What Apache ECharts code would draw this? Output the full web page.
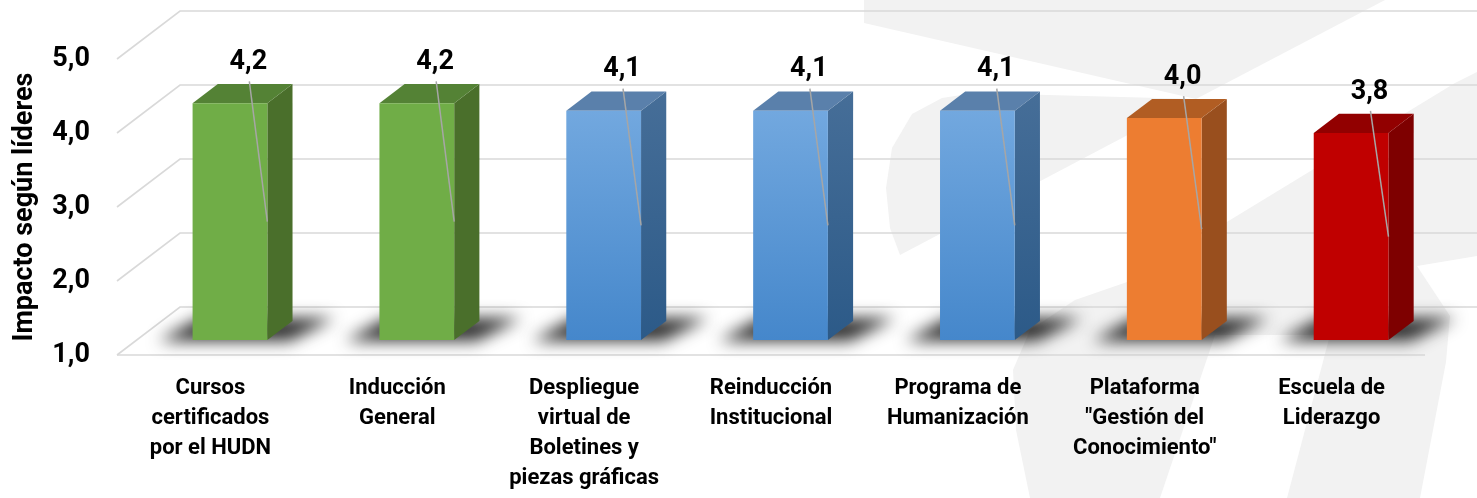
<!DOCTYPE html>
<html>
<head>
<meta charset="utf-8">
<script src="https://cdn.jsdelivr.net/npm/echarts@6/dist/echarts.min.js"></script>
<style>
html,body{margin:0;padding:0;background:#ffffff;}
#chart{width:1477px;height:498px;}
</style>
</head>
<body>
<div id="chart"></div>
<script>
// ---- data ----
const categories = [
  'Cursos\ncertificados\npor el HUDN',
  'Inducción\nGeneral',
  'Despliegue\nvirtual de\nBoletines y\npiezas gráficas',
  'Reinducción\nInstitucional',
  'Programa de\nHumanización',
  'Plataforma\n"Gestión del\nConocimiento"',
  'Escuela de\nLiderazgo'
];
const values = [4.2, 4.2, 4.1, 4.1, 4.1, 4.0, 3.8];
const barGroup = ['green', 'green', 'blue', 'blue', 'blue', 'orange', 'red'];
const yTicks = [1, 2, 3, 4, 5];
const yAxisTitle = 'Impacto según líderes';

// ---- styles ----
const FONT = 'Roboto';
const DEPTH_X = 63, DEPTH_Y = -48;       // floor depth projection
const BAR_FRONT = 0.31, BAR_BACK = 0.71; // bar placement within depth
const BAR_WIDTH_RATIO = 0.40;
const LG = (c0, c1) => new echarts.graphic.LinearGradient(0, 0, 0, 1, [{offset: 0, color: c0}, {offset: 1, color: c1}]);
const palette = {
  green:  {front: '#70AD47', side: '#4A6F2B', top: '#548235'},
  blue:   {front: LG('#72A8DF', '#4587CB'), side: LG('#466E98', '#2C5A88'), top: '#5A80AB'},
  orange: {front: '#ED7D31', side: '#994F1E', top: '#B15D23'},
  red:    {front: '#C00000', side: '#7E0000', top: '#920000'}
};
const fmt = v => v.toFixed(1).replace('.', ',');

function renderGrid(params, api) {
  const cs = params.coordSys;
  const v = api.value(1);
  const p = api.coord([0, v]);
  const y = p[1];
  const x0 = cs.x;
  const children = [{
    type: 'polyline',
    shape: {points: [[x0, y], [x0 + DEPTH_X, y + DEPTH_Y], [x0 + cs.width + DEPTH_X + 20, y + DEPTH_Y]]},
    style: {stroke: '#D9D9D9', lineWidth: 1.6, fill: null}
  }];
  if (v === yTicks[0]) {
    children.push({
      type: 'line',
      shape: {x1: x0, y1: y, x2: x0 + cs.width, y2: y},
      style: {stroke: '#D9D9D9', lineWidth: 1.6}
    });
  }
  return {type: 'group', children};
}

function renderBar(params, api) {
  const i = api.value(0);
  const v = api.value(1);
  const base = api.coord([i, yTicks[0]]);
  const top = api.coord([i, v]);
  const bw = api.size([1, 0])[0] * BAR_WIDTH_RATIO;
  const ox = BAR_FRONT * DEPTH_X, oy = BAR_FRONT * DEPTH_Y;
  const dx = (BAR_BACK - BAR_FRONT) * DEPTH_X, dy = (BAR_BACK - BAR_FRONT) * DEPTH_Y;
  const fl = base[0] - bw / 2 + ox, fr = fl + bw;
  const fy = base[1] + oy, ty = top[1] + oy;
  const pal = palette[barGroup[params.dataIndex]];
  const SH = 3000;
  const shadowPts = [[fl - 34, fy + 1], [fr + 22, fy + 1], [fr + dx + 42, fy + dy - 3], [fl + dx - 18, fy + dy - 3]];
  const labX = fr - 19, labY = ty - 41;
  return {
    type: 'group',
    children: [
      {
        type: 'polygon',
        shape: {points: shadowPts.map(p => [p[0] - SH, p[1]])},
        style: {fill: '#000', shadowBlur: 16, shadowColor: 'rgba(0,0,0,0.82)', shadowOffsetX: SH, shadowOffsetY: 0}
      },
      {
        type: 'polygon',
        shape: {points: [[fr, ty], [fr + dx, ty + dy], [fr + dx, fy + dy], [fr, fy]]},
        style: {fill: pal.side}
      },
      {
        type: 'polygon',
        shape: {points: [[fl, ty], [fr, ty], [fr + dx, ty + dy], [fl + dx, ty + dy]]},
        style: {fill: pal.top}
      },
      {
        type: 'rect',
        shape: {x: fl, y: ty, width: bw, height: fy - ty},
        style: {fill: pal.front}
      },
      {
        type: 'line',
        shape: {x1: labX + 1, y1: labY + 19, x2: fr, y2: (ty + fy) / 2},
        style: {stroke: '#A6A6A6', lineWidth: 1.5}
      },
      {
        type: 'text',
        x: labX, y: labY,
        style: {text: fmt(v), fill: '#000', font: 'bold 27px ' + FONT, align: 'center', verticalAlign: 'middle'}
      }
    ]
  };
}

const chart = echarts.init(document.getElementById('chart'), null, {renderer: 'canvas'});
const W = '#F2F2F2';
chart.setOption({
  animation: false,
  backgroundColor: '#ffffff',
  grid: {left: 117, right: 52, top: 59, bottom: 143},
  graphic: {
    elements: [
      {type: 'polygon', z: 0, silent: true, shape: {points: [[864,0],[1385,0],[1196,99],[864,23]]}, style: {fill: W}},
      {type: 'polygon', z: 0, silent: true, shape: {points: [[974,93],[1196,99],[900,255],[890,228],[886,188],[892,148],[912,114],[942,98]]}, style: {fill: W}},
      {type: 'polygon', z: 0, silent: true, shape: {points: [[1455,83],[1477,72],[1477,498],[1030,498],[1016,430],[1013,370],[1030,330],[1075,300],[1130,281]]}, style: {fill: W}},
      {type: 'polygon', z: 0, silent: true, shape: {points: [[1215,335],[1330,335],[1287,498],[1160,498]]}, style: {fill: '#ffffff'}},
      {type: 'polygon', z: 0, silent: true, shape: {points: [[1417,266],[1477,256],[1477,498],[1420,498],[1446,362],[1450,316]]}, style: {fill: '#ffffff'}}
    ]
  },
  xAxis: {
    type: 'category',
    data: categories,
    axisLine: {show: false},
    axisTick: {show: false},
    splitLine: {show: false},
    axisLabel: {
      interval: 0, margin: 18, color: '#000', fontFamily: FONT, fontSize: 22,
      fontWeight: 'bold', lineHeight: 30, align: 'center'
    }
  },
  yAxis: {
    type: 'value',
    min: 1, max: 5, interval: 1,
    name: yAxisTitle,
    nameLocation: 'middle',
    nameRotate: 90,
    nameGap: 78,
    nameTextStyle: {color: '#000', fontFamily: FONT, fontSize: 27, fontWeight: 'bold'},
    axisLine: {show: false},
    axisTick: {show: false},
    splitLine: {show: false},
    axisLabel: {margin: 27, color: '#000', fontFamily: FONT, fontSize: 27, fontWeight: 'bold', formatter: v => fmt(v)}
  },
  series: [
    {
      type: 'custom',
      z: 1,
      silent: true,
      renderItem: renderGrid,
      data: yTicks.map(t => [0, t]),
      clip: false
    },
    {
      type: 'custom',
      z: 3,
      renderItem: renderBar,
      data: values.map((v, i) => [i, v]),
      clip: false
    }
  ]
});
</script>
</body>
</html>
